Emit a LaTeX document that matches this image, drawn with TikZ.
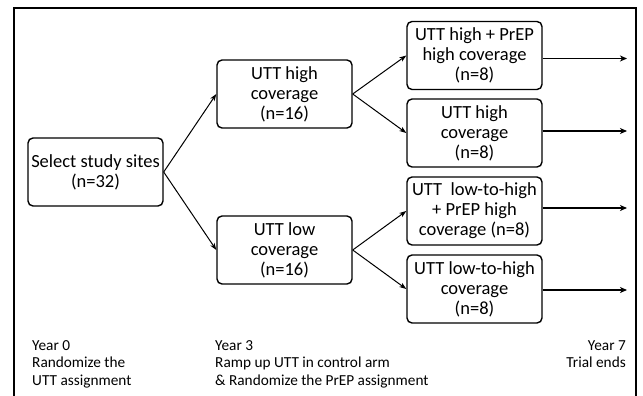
\documentclass[tikz,border=0pt]{standalone}
\usepackage{fontspec}
\setmainfont{Carlito}
\usetikzlibrary{arrows.meta}
\begin{document}
\begin{tikzpicture}[x=1pt,y=-1pt,
  box/.style={draw, line width=1.4pt, rounded corners=5pt, minimum width=135pt, minimum height=68pt, inner sep=0pt, align=center, font=\fontsize{18.5}{20}\selectfont},
  conn/.style={line width=1pt, -{Stealth[length=7pt,width=5pt,inset=2pt]}},
  outarr/.style={line width=1.6pt, -{Stealth[length=7pt,width=6pt,inset=2pt]}},
  lab/.style={inner sep=0pt, font=\fontsize{15.3}{17.5}\selectfont}]
\useasboundingbox (0,0) rectangle (643,396);
\draw[line width=2pt] (14,396) -- (14,8) -- (636,8) -- (636,396);
\node[box] (sel) at (95.5,172) {Select study sites\\(n=32)};
\node[box] (hi) at (284.5,94) {UTT high\\coverage\\(n=16)};
\node[box] (lo) at (284.5,250) {UTT low\\coverage\\(n=16)};
\node[box] (a) at (474.5,55.5) {UTT high + PrEP\\high coverage\\(n=8)};
\node[box] (b) at (474.5,133) {UTT high\\coverage\\(n=8)};
\node[box] (c) at (474.5,211) {UTT\ \ low-to-high\\+ PrEP high\\coverage (n=8)};
\node[box] (d) at (474.5,289) {UTT low-to-high\\coverage\\(n=8)};
\coordinate (endx) at (627,0);
\draw[conn] (sel.east) -- (hi.west);
\draw[conn] (sel.east) -- (lo.west);
\draw[conn] (hi.east) -- (a.west);
\draw[conn] (hi.east) -- (b.west);
\draw[conn] (lo.east) -- (c.west);
\draw[conn] (lo.east) -- (d.west);
\draw[outarr] ([yshift=-3pt]a.east) -- ([yshift=-3pt]a.east -| endx);
\draw[outarr] ([yshift=2pt]b.east) -- ([yshift=2pt]b.east -| endx);
\draw[outarr] ([yshift=3pt]c.east) -- ([yshift=3pt]c.east -| endx);
\draw[outarr] ([yshift=-1pt]d.east) -- ([yshift=-1pt]d.east -| endx);
\node[lab, anchor=north west, align=left] (y0) at (32,340) {Year 0\\Randomize the\\UTT assignment};
\node[lab, anchor=north west, align=left] (y3) at (215,340) {Year 3\\Ramp up UTT in control arm\\\& Randomize the PrEP assignment};
\node[lab, anchor=north east, align=right] (y7) at (626,340) {Year 7\\Trial ends};
\end{tikzpicture}
\end{document}
